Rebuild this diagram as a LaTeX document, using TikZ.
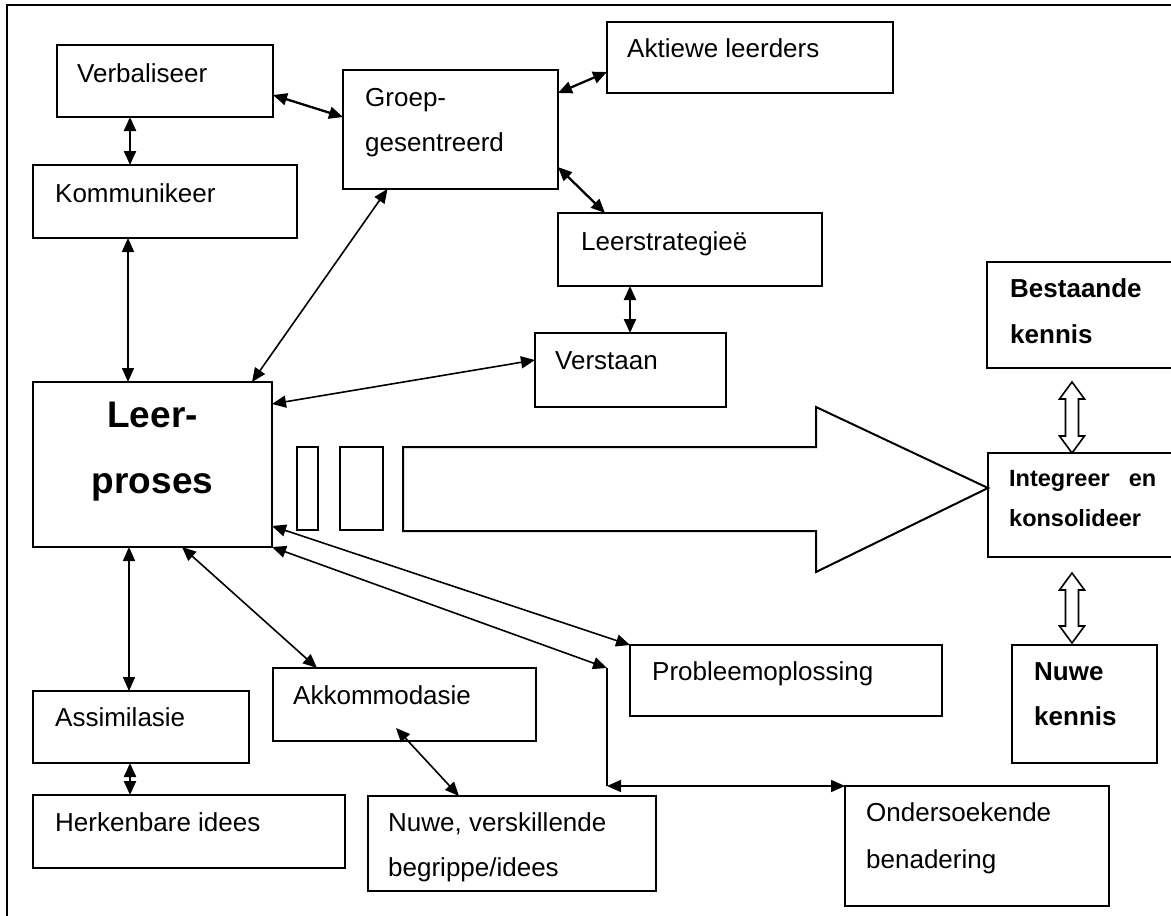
\documentclass[tikz,border=0pt]{standalone}
\usepackage{fontspec}
\setmainfont{Liberation Sans}
\usetikzlibrary{arrows.meta}
\begin{document}
\begin{tikzpicture}[x=1pt,y=-1pt,
  box/.style={draw, line width=2pt, anchor=north west, inner sep=0pt, outer sep=0pt},
  txt/.style={anchor=base west, inner sep=0pt, font=\fontsize{26}{30}\selectfont},
  btxt/.style={anchor=base west, inner sep=0pt, font=\fontsize{26}{30}\selectfont\bfseries},
  stxt/.style={anchor=base west, inner sep=0pt, font=\fontsize{23.5}{28}\selectfont\bfseries},
  bigtxt/.style={anchor=base, inner sep=0pt, font=\fontsize{37}{42}\selectfont\bfseries},
  tip/.tip={Triangle[length=14pt,width=12pt]},
  link/.style={line width=1.6pt, tip-tip},
  thicklink/.style={line width=2.3pt, tip-tip},
  plain/.style={line width=1.6pt},
  hollow/.style={line width=1.6pt, line join=miter},
]
\clip (0,0) rectangle (1171,916);

% outer frame (left and top edges)
\draw[line width=2.2pt] (7,916) -- (7,5) -- (1171,5);

% boxes
\node[box, minimum width=216pt, minimum height=72pt]  (verb)  at (57,45)   {};
\node[box, minimum width=264pt, minimum height=73pt]  (komm)  at (33,165)  {};
\node[box, minimum width=215pt, minimum height=119pt] (groep) at (343,70)  {};
\node[box, minimum width=286pt, minimum height=71pt]  (akt)   at (607,22)  {};
\node[box, minimum width=264pt, minimum height=73pt]  (lstr)  at (558,213) {};
\node[box, minimum width=191pt, minimum height=74pt]  (verst) at (535,333) {};
\node[box, minimum width=239pt, minimum height=165pt] (leer)  at (33,382)  {};
\node[box, minimum width=200pt, minimum height=106pt] (best)  at (987,262) {};
\node[box, minimum width=200pt, minimum height=104pt] (integ) at (988,453) {};
\node[box, minimum width=145pt, minimum height=118pt] (nuwek) at (1012,645) {};
\node[box, minimum width=312pt, minimum height=71pt]  (prob)  at (630,645) {};
\node[box, minimum width=264pt, minimum height=120pt] (onder) at (845,786) {};
\node[box, minimum width=263pt, minimum height=73pt]  (akk)   at (273,668) {};
\node[box, minimum width=216pt, minimum height=72pt]  (assim) at (33,691)  {};
\node[box, minimum width=312pt, minimum height=73pt]  (herk)  at (33,795)  {};
\node[box, minimum width=288pt, minimum height=95pt]  (nuwev) at (368,796) {};

% labels
\node[txt] (verbT)   at (77,82)   {Verbaliseer};
\node[txt] (kommT)   at (55,202)  {Kommunikeer};
\node[txt] (groepT1) at (365,106) {Groep-};
\node[txt] (groepT2) at (365,151) {gesentreerd};
\node[txt] (aktT)    at (627,57)  {Aktiewe leerders};
\node[txt] (lstrT)   at (581,250) {Leerstrategieë};
\node[txt] (verstT)  at (555,369) {Verstaan};
\node[bigtxt] (leerT1) at (152.5,427) {Leer-};
\node[bigtxt] (leerT2) at (152.5,493) {proses};
\node[btxt] (bestT1) at (1010,297) {Bestaande};
\node[btxt] (bestT2) at (1010,343) {kennis};
\node[stxt] (integT1) at (1009,486) {Integreer\hspace{19pt}en};
\node[stxt] (integT2) at (1009,526) {konsolideer};
\node[btxt] (nuwekT1) at (1034,680) {Nuwe};
\node[btxt] (nuwekT2) at (1034,725) {kennis};
\node[txt] (probT)   at (652,680) {Probleemoplossing};
\node[txt] (onderT1) at (866,821) {Ondersoekende};
\node[txt] (onderT2) at (866,868) {benadering};
\node[txt] (akkT)    at (293,704) {Akkommodasie};
\node[txt] (assimT)  at (55,726)  {Assimilasie};
\node[txt] (herkT)   at (55,831)  {Herkenbare idees};
\node[txt] (nuwevT1) at (388,831) {Nuwe, verskillende};
\node[txt] (nuwevT2) at (388,876) {begrippe/idees};

% small bars and the broad arrow towards integration
\draw[line width=2pt] (297,447) rectangle (318,530);
\draw[line width=2pt] (340,447) rectangle (383,530);
\draw[line width=2pt, line join=miter]
  (403,447) -- (816,447) -- (816,407) -- (integ.west |- 0,488) -- (816,572)
  -- (816,531) -- (403,531) -- cycle;

% connectors
\draw[thicklink] ([yshift=-14pt]verb.east) -- ([yshift=12.5pt]groep.west);
\draw[thicklink] ([xshift=-35pt]verb.south) -- ([xshift=-35pt]verb.south |- komm.north);
\draw[link] ([xshift=-37pt]komm.south) -- ([xshift=-37pt]komm.south |- leer.north);
\draw[link] ([xshift=-63pt]groep.south) -- ([xshift=-20pt]leer.north east);
\draw[thicklink] ([yshift=-23pt]groep.north east) -- ([yshift=-14.5pt]akt.west);
\draw[thicklink] ([yshift=22pt]groep.south east) -- ([xshift=47pt]lstr.north west);
\draw[thicklink] ([xshift=-60pt]lstr.south) -- ([xshift=-60pt]lstr.south |- verst.north);
\draw[link] ([yshift=10pt]verst.west) -- ([yshift=-22pt]leer.north east);
\draw[link] ([yshift=21pt]leer.south east) -- (prob.north west);

\coordinate (bend1) at (607,668);
\coordinate (bend2) at (607,786);
\draw[link] (leer.south east) -- (bend1);
\draw[plain] (bend1) -- (bend2);
\draw[link] (bend2) -- (onder.north west);

\draw[link] ([xshift=29.5pt]leer.south) -- ([xshift=44pt]akk.north west);
\draw[link] ([xshift=-23.5pt]leer.south) -- ([xshift=-23.5pt]leer.south |- assim.north);
\draw[thicklink] ([xshift=-11pt]assim.south) -- ([xshift=-11pt]assim.south |- herk.north);
\draw[link] ([xshift=-8.5pt,yshift=13pt]akk.south) -- ([xshift=91pt]nuwev.north west);

% hollow double arrows on the right
\coordinate (hup)  at (1072,382);
\coordinate (hlow) at (1072,573);
\draw[hollow] (hup) -- ++(12.5,17) -- ++(-6,0) -- ++(0,37) -- ++(6,0) -- ++(-12.5,17)
  -- ++(-12.5,-17) -- ++(6,0) -- ++(0,-37) -- ++(-6,0) -- cycle;
\draw[hollow] (hlow) -- ++(12.5,17) -- ++(-6,0) -- ++(0,36) -- ++(6,0) -- ++(-12.5,17)
  -- ++(-12.5,-17) -- ++(6,0) -- ++(0,-36) -- ++(-6,0) -- cycle;
\end{tikzpicture}
\end{document}
